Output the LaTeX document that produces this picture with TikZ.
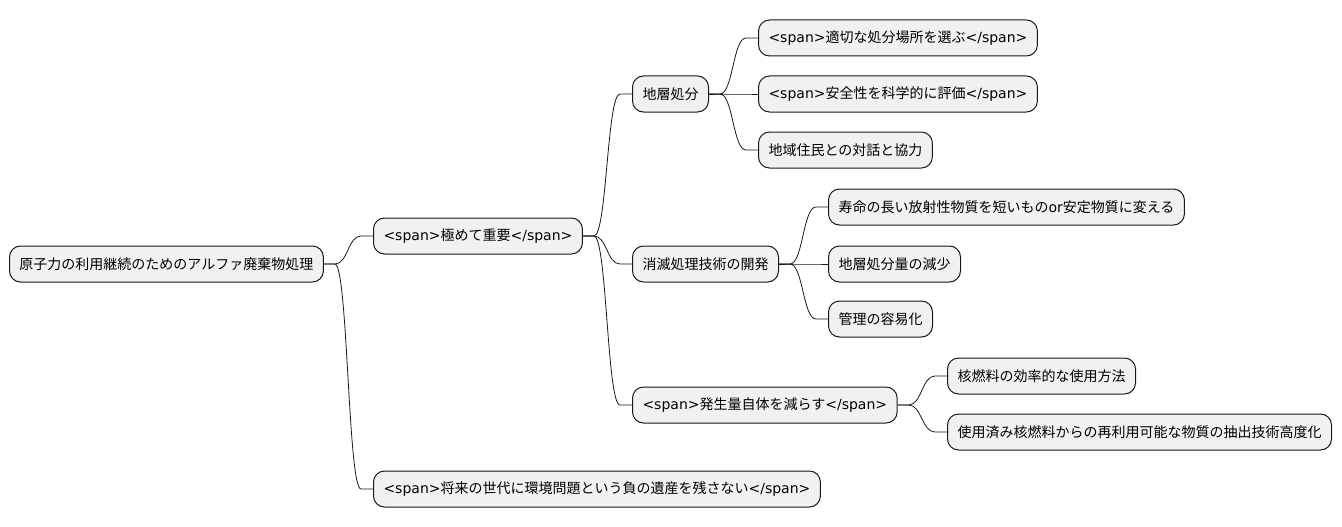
\documentclass[tikz,border=0pt]{standalone}
\usepackage{fontspec}
\setmainfont{Noto Sans CJK JP}
\newfontfamily\latinfont{DejaVu Sans}
\usepackage{xcolor}
\usetikzlibrary{calc}

\definecolor{nodefill}{HTML}{F1F1F1}
\definecolor{nodeline}{HTML}{181818}
\newcommand{\lt}[1]{{\latinfont #1}}

% connector from parent to child
\newcommand{\mmlink}[2]{%
  \path (#1.east) ++(11,0) coordinate (ls);
  \path (#2.west) ++(-12,0) coordinate (le);
  \coordinate (lm) at ($(ls)!0.5!(le)$);
  \draw[mm_edge] (#1.east) -- (ls) .. controls (lm |- ls) and (lm |- le) .. (le) -- (#2.west);}

\begin{document}
\begin{tikzpicture}[
    x=1pt, y=-1pt,
    mm_node/.style={draw=nodeline, fill=nodefill, line width=1pt, rounded corners=11pt,
      minimum height=36pt, inner xsep=10pt, anchor=west, font=\fontsize{14}{17}\selectfont},
    mm_edge/.style={draw=nodeline, line width=0.8pt}
]
\useasboundingbox (0,0) rectangle (1342,527);

\node[mm_node] (root) at (9,264)  {原子力の利用継続のためのアルファ廃棄物処理};
\node[mm_node] (imp)  at (373,236) {\lt{<span>}極めて重要\lt{</span>}};
\node[mm_node] (leg)  at (373,489) {\lt{<span>}将来の世代に環境問題という負の遺産を残さない\lt{</span>}};

\node[mm_node] (geo)  at (632,94)  {地層処分};
\node[mm_node] (geo1) at (758,38)  {\lt{<span>}適切な処分場所を選ぶ\lt{</span>}};
\node[mm_node] (geo2) at (758,94)  {\lt{<span>}安全性を科学的に評価\lt{</span>}};
\node[mm_node] (geo3) at (758,150) {地域住民との対話と協力};

\node[mm_node] (tra)  at (632,264) {消滅処理技術の開発};
\node[mm_node] (tra1) at (828,207) {寿命の長い放射性物質を短いもの\lt{or}安定物質に変える};
\node[mm_node] (tra2) at (828,264) {地層処分量の減少};
\node[mm_node] (tra3) at (828,319) {管理の容易化};

\node[mm_node] (red)  at (632,405) {\lt{<span>}発生量自体を減らす\lt{</span>}};
\node[mm_node] (red1) at (947,376) {核燃料の効率的な使用方法};
\node[mm_node] (red2) at (947,432) {使用済み核燃料からの再利用可能な物質の抽出技術高度化};

\mmlink{root}{imp}
\mmlink{root}{leg}
\mmlink{imp}{geo}
\mmlink{imp}{tra}
\mmlink{imp}{red}
\mmlink{geo}{geo1}
\mmlink{geo}{geo2}
\mmlink{geo}{geo3}
\mmlink{tra}{tra1}
\mmlink{tra}{tra2}
\mmlink{tra}{tra3}
\mmlink{red}{red1}
\mmlink{red}{red2}
\end{tikzpicture}
\end{document}
